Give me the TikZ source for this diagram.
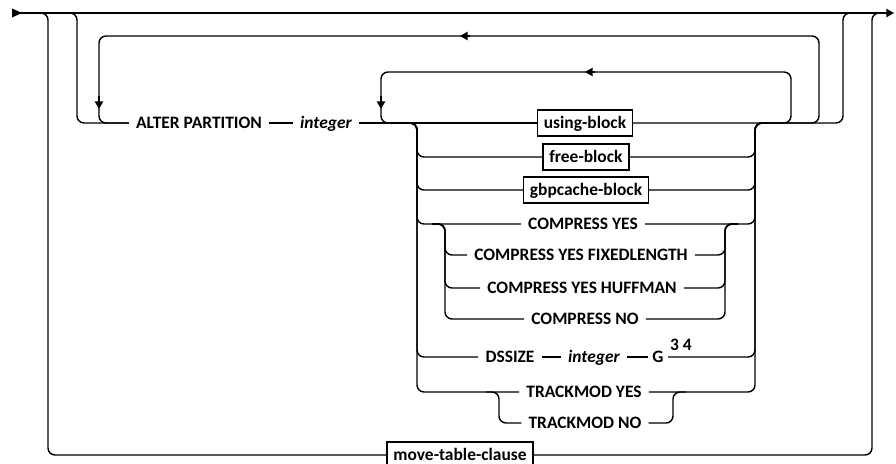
\documentclass[tikz,border=0pt]{standalone}
\usepackage{fontspec}
\setmainfont{Carlito}
\usepackage{tikz}
\usetikzlibrary{arrows.meta}
\newcommand{\rrfont}{\fontsize{12.4}{14}\selectfont\bfseries}
\tikzset{
  rail/.style={line width=1pt, rounded corners=5pt},
  kwd/.style={font=\rrfont, inner xsep=5pt, inner ysep=0pt, text height=10pt, text depth=2pt},
  varb/.style={kwd, font=\rrfont\itshape},
  blockbox/.style={draw, line width=1pt, font=\rrfont, inner xsep=4.5pt, minimum height=18.5pt, text height=10pt, text depth=2pt},
  dirmark/.style={line width=1pt, -{Triangle[length=5.5pt,width=6pt]}},
}

\begin{document}
\begin{tikzpicture}[x=0.025cm, y=-0.025cm]
\useasboundingbox (0,0) rectangle (896,464);
\coordinate (start) at (12,13);
\coordinate (stop)  at (894,13);
\coordinate (lbeg)  at (26,13);
\coordinate (rend)  at (882,13);
\coordinate (cin)   at (404,123);
\coordinate (cout)  at (768,123);
\coordinate (csin)  at (432,224);
\coordinate (csout) at (738,224);
\coordinate (tsin)  at (486,392);
\coordinate (tsout) at (686,392);
\node[kwd] (alter) at (199,123) {ALTER PARTITION};
\node[varb] (int1) at (326,123) {integer};
\node[blockbox] (using) at (585,123) {using-block};
\node[blockbox] (free) at (586,157) {free-block};
\node[blockbox] (gbp) at (586,190) {gbpcache-block};
\node[kwd] (cy)  at (583,224) {COMPRESS YES};
\node[kwd] (cyf) at (581,255) {COMPRESS YES FIXEDLENGTH};
\node[kwd] (cyh) at (582,288) {COMPRESS YES HUFFMAN};
\node[kwd] (cn)  at (585,319) {COMPRESS NO};
\node[kwd] (ds)  at (510,357) {DSSIZE};
\node[varb] (int2) at (594,357) {integer};
\node[kwd, inner xsep=3pt] (g) at (658,357) {G};
\node[kwd, inner xsep=0pt] (fn) at (681,345) {3 4};
\node[kwd] (ty)  at (584,392) {TRACKMOD YES};
\node[kwd] (tn)  at (585,423) {TRACKMOD NO};
\node[blockbox] (mtc) at (460,455) {move-table-clause};
% main line
\fill (12,8.5) -- (22,13) -- (12,17.5) -- cycle;
\draw[dirmark] (start) -- (stop);
\draw[rail] (lbeg) -- (48,13) -- (48,455) -- (mtc.west);
\draw[rail] (mtc.east) -- (872,455) -- (872,13) -- (rend);
% alter partition
\draw[rail] (lbeg) -- (77,13) -- (77,123) -- (alter.west);
\draw[rail] (alter.east) -- (int1.west);
\draw[rail] (int1.east) -- (using.west);
\draw[rail] (using.east) -- (843,123) -- (843,13) -- (rend);
% repeat loops
\draw[rail] (cout) -- (819,123) -- (819,36) -- (99,36) -- (99,123) -- (alter.west);
\draw[rail] (cout) -- (791,123) -- (791,72) -- (381,72) -- (381,123) -- (cin);
\draw[dirmark] (470,36) -- (460,36);
\draw[dirmark] (595,72) -- (585,72);
\draw[dirmark] (99,96) -- (99,109);
\draw[dirmark] (381,96) -- (381,109);
% choices
\draw[rail] (cin) -- (417,123) -- (417,157) -- (free.west);
\draw[rail] (free.east) -- (755,157) -- (755,123) -- (cout);
\draw[rail] (cin) -- (417,123) -- (417,190) -- (gbp.west);
\draw[rail] (gbp.east) -- (755,190) -- (755,123) -- (cout);
\draw[rail] (cin) -- (417,123) -- (417,224) -- (cy.west);
\draw[rail] (cy.east) -- (755,224) -- (755,123) -- (cout);
\draw[rail] (csin) -- (445,224) -- (445,255) -- (cyf.west);
\draw[rail] (cyf.east) -- (725,255) -- (725,224) -- (csout);
\draw[rail] (csin) -- (445,224) -- (445,288) -- (cyh.west);
\draw[rail] (cyh.east) -- (725,288) -- (725,224) -- (csout);
\draw[rail] (csin) -- (445,224) -- (445,319) -- (cn.west);
\draw[rail] (cn.east) -- (725,319) -- (725,224) -- (csout);
\draw[rail] (cin) -- (417,123) -- (417,357) -- (ds.west);
\draw[rail] (ds.east) -- (int2.west);
\draw[rail] (int2.east) -- (g.west);
\draw[rail] (g.east) -- (755,357) -- (755,123) -- (cout);
\draw[rail] (cin) -- (417,123) -- (417,392) -- (ty.west);
\draw[rail] (ty.east) -- (755,392) -- (755,123) -- (cout);
\draw[rail] (tsin) -- (499,392) -- (499,423) -- (tn.west);
\draw[rail] (tn.east) -- (673,423) -- (673,392) -- (tsout);
\end{tikzpicture}
\end{document}
